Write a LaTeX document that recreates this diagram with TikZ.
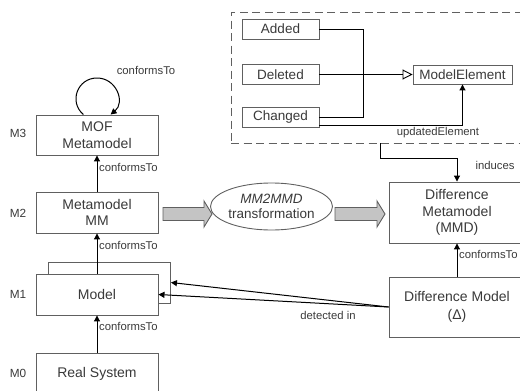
\documentclass[tikz,border=0pt]{standalone}
\usepackage{fontspec}
\setmainfont{Liberation Sans}
\usetikzlibrary{arrows.meta,shapes.geometric,calc}
\definecolor{txt}{HTML}{3A3A3A}
\definecolor{bord}{HTML}{606060}
\definecolor{blockfill}{HTML}{C4C4C4}
\newcommand\blockarr[3]{% x1, x2, y
  \draw[bord, line width=0.9pt, fill=blockfill, line join=miter]
    (#1,#3-6.5) -- (#2-8,#3-6.5) -- (#2-8,#3-13) -- (#2,#3) -- (#2-8,#3+13)
    -- (#2-8,#3+6.5) -- (#1,#3+6.5) -- cycle;}
\begin{document}
\begin{tikzpicture}[x=1pt,y=-1pt,
  text=txt,
  bigbox/.style={draw=bord, line width=0.9pt, fill=white, rectangle, inner sep=0,
    align=center, minimum width=122pt, minimum height=41pt,
    font=\fontsize{14}{16.5}\selectfont},
  smallbox/.style={draw=bord, line width=0.9pt, fill=white, rectangle, inner sep=0,
    align=center, minimum width=77pt, minimum height=20pt,
    font=\fontsize{13.5}{15}\selectfont},
  lbl/.style={font=\fontsize{11.3}{13}\selectfont, inner sep=0},
  lvl/.style={font=\fontsize{11.8}{13}\selectfont, inner sep=0},
  arr/.style={draw=black, line width=1pt, -{Triangle[length=6pt,width=6pt]}},
  conn/.style={draw=black, line width=0.9pt}]
\useasboundingbox (0,0) rectangle (520,391);

% dashed package
\node[draw=bord, line width=0.9pt, dash pattern=on 8pt off 4.5pt,
  minimum width=299pt, minimum height=131pt, inner sep=0] (pkg) at (380.5,77.5) {};

\node[smallbox] (added) at (280.5,29) {Added};
\node[smallbox] (deleted) at (280.5,74.5) {Deleted};
\node[smallbox] (changed) at (280.5,117) {Changed};
\node[smallbox, minimum width=99pt, minimum height=19pt] (me) at (462.5,74.5) {ModelElement};

\draw[conn] (added.east) -- ++(44,0) |- (changed.east);
\draw[conn, -{Triangle[open, length=10pt, width=10pt]}, fill=white] (deleted.east) -- (me.west);
\draw[arr] ([yshift=-8pt]changed.east) -| (me.south);
\node[lbl] (upd) at (438,133) {updatedElement};

% left stack
\node[bigbox, minimum height=40pt] (mof) at (97,135) {MOF\\Metamodel};
\node[bigbox] (mm) at (97,212.5) {Metamodel\\MM};
\node[bigbox] (modelback) at (109.5,282.5) {};
\node[bigbox] (model) at (97,294.5) {Model};
\node[bigbox] (real) at (97,373.5) {Real System};

\node[lvl] (m3) at (18,133) {M3};
\node[lvl] (m2) at (18,213) {M2};
\node[lvl] (m1) at (18,294) {M1};
\node[lvl] (m0) at (18,373) {M0};

% self loop
\draw[arr] ([xshift=-13.6pt]mof.north) .. controls +(-14.9,-12.7) and (77.5,78) .. (97,78)
  .. controls (116.5,78) and (125.5,102.3) .. ([xshift=13.6pt]mof.north);
\node[lbl] (cl0) at (146,70) {conformsTo};

\draw[arr] (mm.north) -- (mof.south);
\node[lbl, anchor=west] (cl1) at (99,167) {conformsTo};
\draw[arr] (model.north) -- (mm.south);
\node[lbl, anchor=west] (cl2) at (99,245) {conformsTo};
\draw[arr] (real.north) -- (model.south);
\node[lbl, anchor=west] (cl3) at (99,326) {conformsTo};

% right side
\node[bigbox, minimum width=136pt, minimum height=61pt] (dmm) at (457,212.5)
  {Difference\\Metamodel\\(MMD)};
\node[bigbox, minimum width=136pt, minimum height=60pt,
  font=\fontsize{14}{18}\selectfont] (dm) at (457,307) {Difference Model\\(Δ)};

\draw[arr] (dm.north) -- (dmm.south);
\node[lbl, anchor=west] (cl4) at (459,254) {conformsTo};

\draw[arr] (pkg.south) -- ++(0,15) -| (dmm.north);
\node[lbl] (ind) at (495,165) {induces};

% transformation
\node[ellipse, draw=bord, line width=0.9pt, fill=white, minimum width=115pt,
  minimum height=47pt, inner sep=0, align=center,
  font=\fontsize{13.5}{15.5}\selectfont] (tr) at (271.5,206.5)
  {\textit{MM2MMD}\\transformation};
\blockarr{163}{212}{214}
\blockarr{335}{385}{214}

% detected in
\draw[arr] (dm.west) -- (modelback.east);
\draw[arr] (dm.west) -- (model.east);
\node[lbl] (det) at (328,315) {detected in};
\end{tikzpicture}
\end{document}
